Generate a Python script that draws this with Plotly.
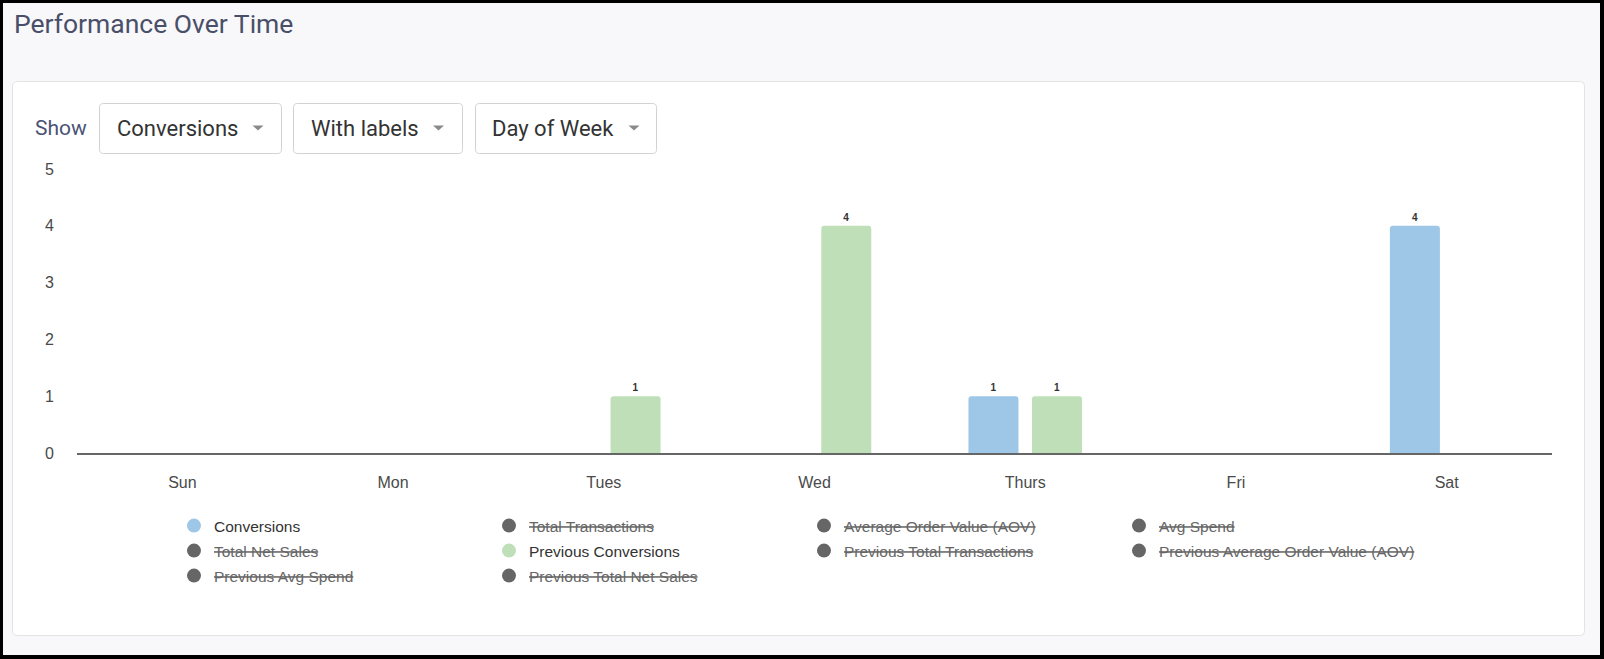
import plotly.graph_objects as go

# ---------------- data ----------------
days = ["Sun", "Mon", "Tues", "Wed", "Thurs", "Fri", "Sat"]
conversions = [0, 0, 0, 0, 1, 0, 4]
previous_conversions = [0, 0, 1, 4, 1, 0, 0]
y_ticks = [0, 1, 2, 3, 4, 5]

legend_rows = [
    ["Conversions", "Total Transactions", "Average Order Value (AOV)", "Avg Spend"],
    ["Total Net Sales", "Previous Conversions", "Previous Total Transactions",
     "Previous Average Order Value (AOV)"],
    ["Previous Avg Spend", "Previous Total Net Sales"],
]
controls = ["Conversions", "With labels", "Day of Week"]
title_text = "Performance Over Time"
show_text = "Show"

# ---------------- styling ----------------
W, H = 1604, 659
ML, MR, MT, MB = 77, 52, 169, 206
PW, PH = W - ML - MR, H - MT - MB
BLUE = "#9DC6E7"
GREEN = "#BEDFB8"
HIDDEN = "#666666"
series_colors = {"Conversions": BLUE, "Previous Conversions": GREEN}
CHART_FONT = "Liberation Sans, Arial, sans-serif"
UI_FONT = "Roboto, sans-serif"


def px(x):
    return (x - ML) / PW


def py(y):
    return (H - MB - y) / PH


def rrect(x0, y0, x1, y1, r):
    pts = [
        ("M", [(x0 + r, y0)]), ("L", [(x1 - r, y0)]), ("Q", [(x1, y0), (x1, y0 + r)]),
        ("L", [(x1, y1 - r)]), ("Q", [(x1, y1), (x1 - r, y1)]), ("L", [(x0 + r, y1)]),
        ("Q", [(x0, y1), (x0, y1 - r)]), ("L", [(x0, y0 + r)]), ("Q", [(x0, y0), (x0 + r, y0)]),
    ]
    s = ""
    for cmd, ps in pts:
        s += cmd + " " + " ".join(f"{px(a):.6f},{py(b):.6f}" for a, b in ps) + " "
    return s + "Z"


fig = go.Figure()

fig.add_trace(go.Bar(
    x=days, y=conversions, name="Conversions", legendgroup="Conversions",
    showlegend=False, marker=dict(color=BLUE, line=dict(width=0)),
    text=[str(v) if v else "" for v in conversions], textposition="outside",
    textfont=dict(size=10, color="#333333", family=CHART_FONT), cliponaxis=False,
    texttemplate="<b>%{text}</b>", hoverinfo="x+y+name",
))
fig.add_trace(go.Bar(
    x=days, y=previous_conversions, name="Previous Conversions",
    legendgroup="Previous Conversions",
    showlegend=False, marker=dict(color=GREEN, line=dict(width=0)),
    text=[str(v) if v else "" for v in previous_conversions], textposition="outside",
    textfont=dict(size=10, color="#333333", family=CHART_FONT), cliponaxis=False,
    texttemplate="<b>%{text}</b>", hoverinfo="x+y+name",
))

# legend entries (circle markers), one legend per row
legend_ids = ["legend", "legend2", "legend3"]
for row, lid in zip(legend_rows, legend_ids):
    for name in row:
        active = name in series_colors
        label = name if active else f"<span style='color:#666666'><s>{name}</s></span>"
        fig.add_trace(go.Scatter(
            x=[None], y=[None], mode="markers", name=label, legend=lid,
            legendgroup=name,
            marker=dict(symbol="circle", size=14, color=series_colors.get(name, HIDDEN)),
            hoverinfo="skip",
        ))

row_y = [526, 551, 576]
legend_common = dict(
    orientation="h", xanchor="left", yanchor="middle",
    x=px(174), entrywidth=270, entrywidthmode="pixels",
    font=dict(family=CHART_FONT, size=15.5, color="#333333"),
    bgcolor="rgba(0,0,0,0)", borderwidth=0, itemclick=False, itemdoubleclick=False,
)

shapes = [
    # page background inside black frame
    dict(type="rect", xref="paper", yref="paper", x0=px(3), x1=px(1600), y0=py(3), y1=py(655),
         fillcolor="#F8F8FA", line=dict(width=0), layer="below"),
    # white panel
    dict(type="path", xref="paper", yref="paper", path=rrect(12.5, 81.5, 1584.5, 635.5, 5),
         fillcolor="#FFFFFF", line=dict(color="#E3E3E6", width=1), layer="below"),
]

annotations = [
    dict(text=title_text, xref="paper", yref="paper", x=px(12), y=py(23),
         xanchor="left", yanchor="middle", showarrow=False,
         font=dict(family=UI_FONT, size=26.5, color="#4A4F69")),
    dict(text=show_text, xref="paper", yref="paper", x=px(33), y=py(128),
         xanchor="left", yanchor="middle", showarrow=False,
         font=dict(family=UI_FONT, size=21, color="#4B5275")),
]

buttons = [(99, 282, 115, 258), (293, 463, 309, 438.5), (475, 657, 490, 634)]
for label, (bx0, bx1, tx, cx) in zip(controls, buttons):
    shapes.append(dict(type="path", xref="paper", yref="paper",
                       path=rrect(bx0 + 0.5, 103.5, bx1 - 0.5, 153.5, 4),
                       fillcolor="#FFFFFF", line=dict(color="#D2D2D5", width=1), layer="below"))
    shapes.append(dict(type="path", xref="paper", yref="paper",
                       path=f"M {px(cx-5.5)},{py(125.5)} L {px(cx+5.5)},{py(125.5)} L {px(cx)},{py(130.5)} Z",
                       fillcolor="#8A8A8A", line=dict(width=0), layer="above"))
    annotations.append(dict(text=label, xref="paper", yref="paper", x=px(tx), y=py(128),
                            xanchor="left", yanchor="middle", showarrow=False,
                            font=dict(family=UI_FONT, size=22, color="#333333")))

layout_legends = {}
for lid, ry in zip(legend_ids, row_y):
    layout_legends[lid] = dict(legend_common, y=py(ry))

fig.update_layout(
    width=W, height=H,
    margin=dict(l=ML, r=MR, t=MT, b=MB, autoexpand=False),
    paper_bgcolor="#000000", plot_bgcolor="rgba(0,0,0,0)",
    barmode="group", bargap=0.397, bargroupgap=0.213, barcornerradius=3,
    font=dict(family=CHART_FONT, size=16, color="#555555"),
    xaxis=dict(categoryorder="array", categoryarray=days, showline=True,
               linecolor="#666666", linewidth=2, showgrid=False, zeroline=False,
               ticks="", ticklabelstandoff=14,
               tickfont=dict(family=CHART_FONT, size=16, color="#4A4A4A"), fixedrange=True),
    yaxis=dict(range=[0, 5], tickvals=y_ticks, showline=False, showgrid=False,
               zeroline=False, ticks="", ticklabelstandoff=22,
               tickfont=dict(family=CHART_FONT, size=16, color="#4A4A4A"), fixedrange=True),
    shapes=shapes, annotations=annotations,
    hovermode="closest",
    **layout_legends,
)

fig.write_html(
    "out.html",
    config={"displayModeBar": False},
    post_script="document.body.style.margin='0';document.body.style.overflow='hidden';",
)
